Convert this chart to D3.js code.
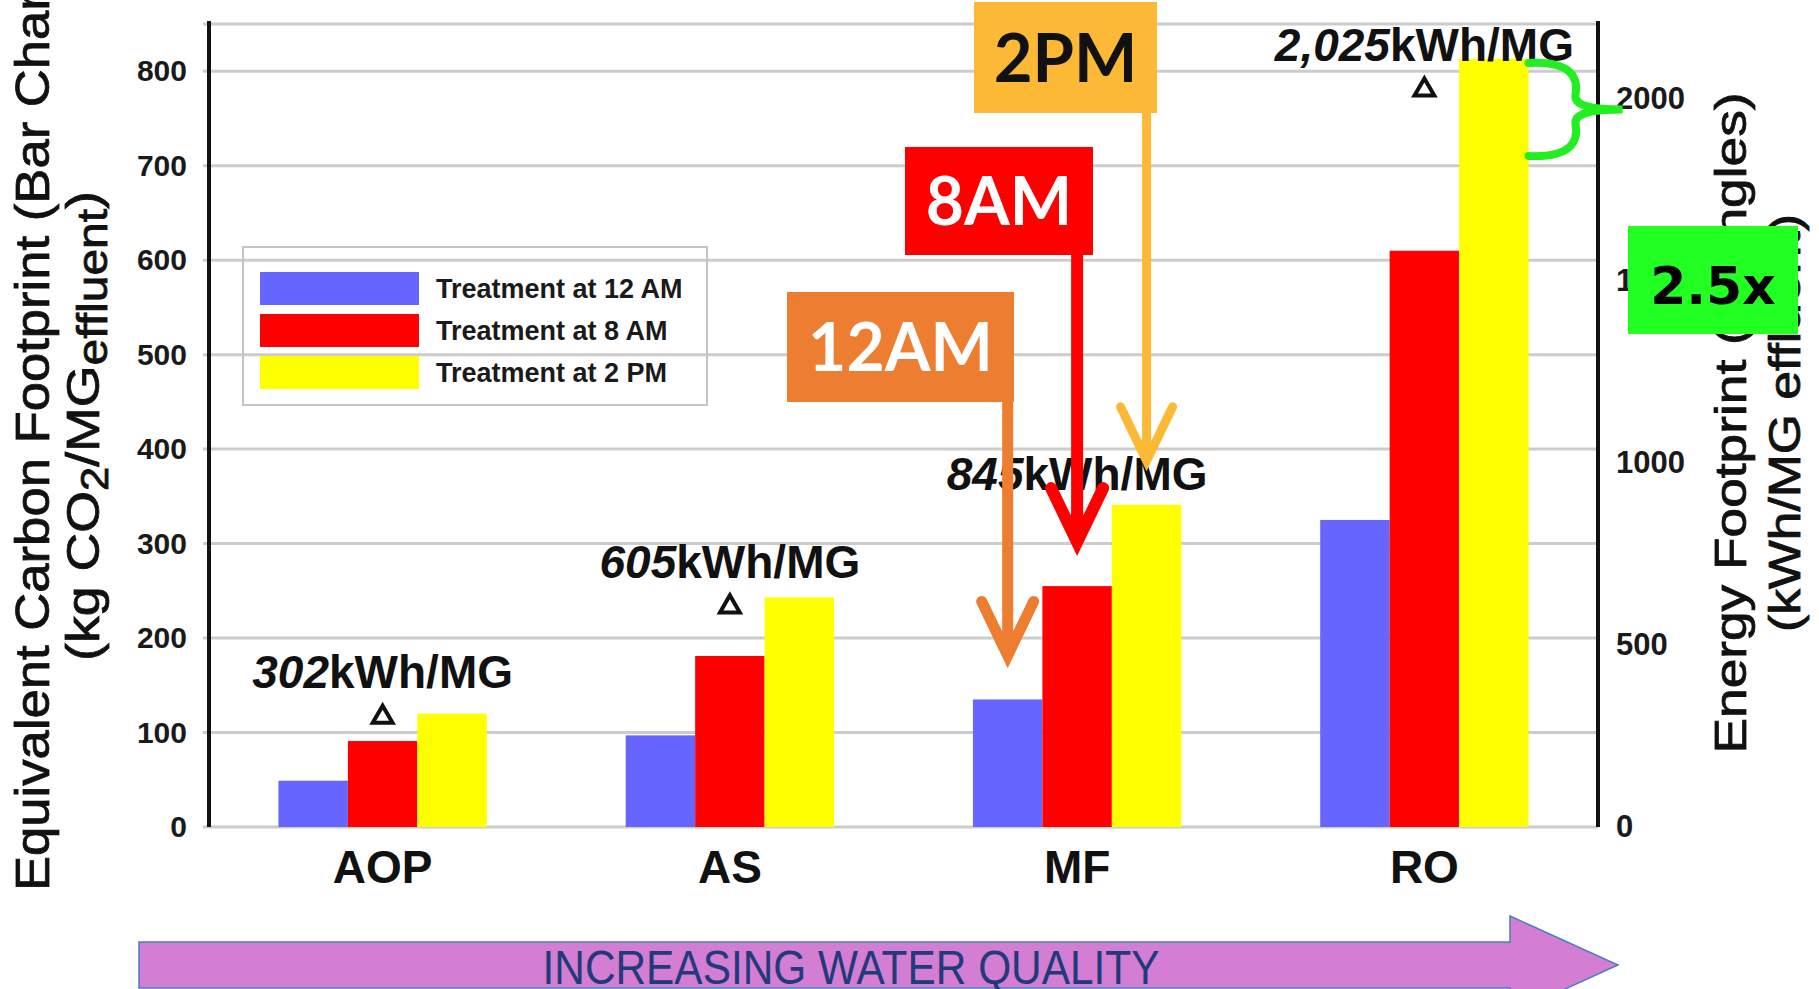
<!DOCTYPE html>
<html>
<head>
<meta charset="utf-8">
<script src="https://cdn.jsdelivr.net/npm/d3@7"></script>
<style>
  html, body { margin: 0; padding: 0; background: #ffffff; }
  svg { display: block; }
</style>
</head>
<body>
<svg id="chart" width="1819" height="989"></svg>
<script>
// ---- data ----
const categories = ["AOP", "AS", "MF", "RO"];
const seriesNames = ["Treatment at 12 AM", "Treatment at 8 AM", "Treatment at 2 PM"];
const carbon12AM = [49, 97, 135, 325];
const carbon8AM = [91, 181, 255, 610];
const carbon2PM = [120, 243, 341, 813];
const energyFootprint = [302, 605, 845, 2025];
const energyLabelNumbers = ["302", "605", "845", "2,025"];
const carbonTicks = [0, 100, 200, 300, 400, 500, 600, 700, 800];
const energyTicks = [0, 500, 1000, 1500, 2000];
const calloutLabels = ["12AM", "8AM", "2PM"];
const calloutCategory = "MF";
const ratioLabel = "2.5x";
const qualityLabel = "INCREASING WATER QUALITY";

const seriesValues = [carbon12AM, carbon8AM, carbon2PM];
const seriesColors = ["#6666ff", "#ff0000", "#ffff00"];

// ---- scales ----
const svg = d3.select("#chart");
const plot = { left: 209, right: 1598, top: 24, bottom: 827 };

const x = d3.scaleBand().domain(categories).range([plot.left, plot.right])
  .paddingInner(0.4).paddingOuter(0.2);
const xs = d3.scaleBand().domain(seriesNames).range([0, x.bandwidth()]);
const yL = d3.scaleLinear().domain([0, 850]).range([plot.bottom, plot.top]);
const yR = d3.scaleLinear().domain([0, 2206]).range([plot.bottom, plot.top]);

const SANS = "'Liberation Sans', Arial, Helvetica, sans-serif";

// ---- grid ----
svg.append("g").selectAll("line")
  .data(carbonTicks.concat([850]))
  .join("line")
  .attr("x1", plot.left - 6).attr("x2", plot.right)
  .attr("y1", d => yL(d)).attr("y2", d => yL(d))
  .attr("stroke", "#cccccc").attr("stroke-width", 3);

// ---- bars ----
const groups = svg.append("g").selectAll("g")
  .data(categories)
  .join("g")
  .attr("transform", c => `translate(${x(c)},0)`);

groups.selectAll("rect")
  .data((c, i) => seriesNames.map((s, k) => ({ s, k, v: seriesValues[k][i] })))
  .join("rect")
  .attr("x", d => xs(d.s))
  .attr("width", xs.bandwidth())
  .attr("y", d => yL(d.v))
  .attr("height", d => yL(0) - yL(d.v))
  .attr("fill", d => seriesColors[d.k]);

// ---- axes ----
const leftAxis = svg.append("g")
  .attr("transform", `translate(${plot.left},0)`)
  .call(d3.axisLeft(yL).tickValues(carbonTicks).tickSize(0).tickPadding(22));
leftAxis.select(".domain").remove();
leftAxis.selectAll("text")
  .attr("font-family", SANS).attr("font-weight", "bold")
  .attr("font-size", 30).attr("fill", "#1a1a1a");

const rightAxis = svg.append("g")
  .attr("transform", `translate(${plot.right},0)`)
  .call(d3.axisRight(yR).tickValues(energyTicks).tickFormat(d3.format("d"))
    .tickSize(0).tickPadding(18));
rightAxis.select(".domain").remove();
rightAxis.selectAll("text")
  .attr("font-family", SANS).attr("font-weight", "bold")
  .attr("font-size", 31).attr("fill", "#1a1a1a");

[plot.left, plot.right].forEach(px => {
  svg.append("line")
    .attr("x1", px).attr("x2", px)
    .attr("y1", plot.top - 3).attr("y2", plot.bottom)
    .attr("stroke", "#111").attr("stroke-width", 4);
});

// category labels
svg.append("g").selectAll("text")
  .data(categories)
  .join("text")
  .attr("x", c => x(c) + x.bandwidth() / 2)
  .attr("y", 883)
  .attr("text-anchor", "middle")
  .attr("font-family", SANS).attr("font-weight", "bold")
  .attr("font-size", 46).attr("fill", "#111")
  .text(c => c);

// ---- energy triangles and labels ----
const tri = d3.symbol().type(d3.symbolTriangle).size(170);
const energyG = svg.append("g");
categories.forEach((c, i) => {
  const cx = x(c) + x.bandwidth() / 2;
  const cy = yR(energyFootprint[i]);
  energyG.append("path")
    .attr("d", tri())
    .attr("transform", `translate(${cx},${cy})`)
    .attr("fill", "none").attr("stroke", "#111").attr("stroke-width", 4);
  const t = energyG.append("text")
    .attr("x", cx).attr("y", cy - 29)
    .attr("text-anchor", "middle")
    .attr("font-family", SANS).attr("font-size", 46)
    .attr("font-weight", "bold").attr("fill", "#111");
  t.append("tspan").attr("font-style", "italic").text(energyLabelNumbers[i]);
  t.append("tspan").text("kWh/MG");
});

// ---- legend ----
const legend = svg.append("g");
legend.append("rect")
  .attr("x", 243).attr("y", 247).attr("width", 464).attr("height", 158)
  .attr("fill", "none").attr("stroke", "#c4c4c4").attr("stroke-width", 2);
seriesNames.forEach((s, k) => {
  const ly = 272 + k * 42;
  legend.append("rect")
    .attr("x", 260).attr("y", ly).attr("width", 159).attr("height", 33)
    .attr("fill", seriesColors[k]);
  legend.append("text")
    .attr("x", 436).attr("y", ly + 26)
    .attr("font-family", SANS).attr("font-weight", "bold")
    .attr("font-size", 27).attr("fill", "#1a1a1a")
    .text(s);
});

// ---- axis titles ----
svg.append("text")
  .attr("transform", "translate(49,426) rotate(-90)")
  .attr("text-anchor", "middle")
  .attr("font-family", SANS).attr("font-size", 48).attr("fill", "#111")
  .attr("stroke", "#111").attr("stroke-width", 0.8)
  .attr("textLength", 930).attr("lengthAdjust", "spacingAndGlyphs")
  .text("Equivalent Carbon Footprint (Bar Chart)");

const leftTitle2 = svg.append("text")
  .attr("transform", "translate(99,426) rotate(-90)")
  .attr("text-anchor", "middle")
  .attr("font-family", SANS).attr("font-size", 47).attr("fill", "#111")
  .attr("stroke", "#111").attr("stroke-width", 0.8)
  .attr("textLength", 470).attr("lengthAdjust", "spacingAndGlyphs");
leftTitle2.append("tspan").text("(kg CO");
leftTitle2.append("tspan").attr("font-size", 38).attr("dy", 9).text("2");
leftTitle2.append("tspan").attr("dy", -9).text("/MG");
leftTitle2.append("tspan").attr("font-size", 42).attr("dy", 8).text("effluent");
leftTitle2.append("tspan").attr("dy", -8).text(")");

svg.append("text")
  .attr("transform", "translate(1746,423) rotate(-90)")
  .attr("text-anchor", "middle")
  .attr("font-family", SANS).attr("font-size", 44).attr("fill", "#111")
  .attr("stroke", "#111").attr("stroke-width", 0.8)
  .attr("textLength", 661).attr("lengthAdjust", "spacingAndGlyphs")
  .text("Energy Footprint (Triangles)");

svg.append("text")
  .attr("transform", "translate(1800,423) rotate(-90)")
  .attr("text-anchor", "middle")
  .attr("font-family", SANS).attr("font-size", 44).attr("fill", "#111")
  .attr("stroke", "#111").attr("stroke-width", 0.8)
  .attr("textLength", 418).attr("lengthAdjust", "spacingAndGlyphs")
  .text("(kWh/MG effluent)");

// ---- time-of-day callouts pointing at the MF bars ----
const CALLOUT_FONT = "Lato, 'Open Sans', sans-serif";
const calloutStyle = [
  { box: [787, 292, 227, 110], fill: "#ed7d31", text: "#ffffff", line: "#ed7d31", w: 11, size: 66 },
  { box: [905, 147, 188, 108], fill: "#ff0000", text: "#ffffff", line: "#ff0000", w: 12, size: 66 },
  { box: [974, 2, 183, 111], fill: "#fbb936", text: "#111111", line: "#fbb936", w: 9, size: 67 }
];
const mfIndex = categories.indexOf(calloutCategory);
const callG = svg.append("g");
calloutLabels.forEach((lab, k) => {
  const st = calloutStyle[k];
  const [bx, by, bw, bh] = st.box;
  const ax = x(calloutCategory) + xs(seriesNames[k]) + xs.bandwidth() / 2;
  const tipY = yL(seriesValues[k][mfIndex]) - 44;
  callG.append("path")
    .attr("d", `M${ax},${by + bh} L${ax},${tipY} M${ax - 26},${tipY - 54} L${ax},${tipY} L${ax + 26},${tipY - 54}`)
    .attr("fill", "none").attr("stroke", st.line).attr("stroke-width", st.w)
    .attr("stroke-linecap", "round").attr("stroke-linejoin", "miter");
  callG.append("rect")
    .attr("x", bx).attr("y", by).attr("width", bw).attr("height", bh)
    .attr("fill", st.fill);
  callG.append("text")
    .attr("x", bx + bw / 2).attr("y", by + bh / 2 + 24)
    .attr("text-anchor", "middle")
    .attr("font-family", CALLOUT_FONT).attr("font-weight", "bold")
    .attr("font-size", st.size).attr("fill", st.text)
    .text(lab);
});

// ---- brace linking the RO 2 PM bar to the energy axis, with ratio box ----
const roRight = x("RO") + xs(seriesNames[2]) + xs.bandwidth();
const braceTop = yL(carbon2PM[3]) + 4;
const braceBot = braceTop + 93;
const braceMid = (braceTop + braceBot) / 2;
svg.append("path")
  .attr("d", `M${roRight},${braceTop} C${roRight + 42},${braceTop - 2} ${roRight + 50},${braceTop + 14} ${roRight + 47},${braceMid - 15}
              C${roRight + 45},${braceMid - 4} ${roRight + 62},${braceMid} ${roRight + 94},${braceMid}
              C${roRight + 62},${braceMid} ${roRight + 45},${braceMid + 4} ${roRight + 47},${braceMid + 15}
              C${roRight + 50},${braceBot - 14} ${roRight + 42},${braceBot + 2} ${roRight},${braceBot}`)
  .attr("fill", "none").attr("stroke", "#22ee22").attr("stroke-width", 8)
  .attr("stroke-linecap", "round");

svg.append("rect")
  .attr("x", 1628).attr("y", 226).attr("width", 170).attr("height", 108)
  .attr("fill", "#22ff22");
svg.append("text")
  .attr("x", 1713).attr("y", 304)
  .attr("text-anchor", "middle")
  .attr("font-family", "'DejaVu Sans', sans-serif").attr("font-weight", "bold")
  .attr("font-size", 52).attr("fill", "#000")
  .text(ratioLabel);

// ---- bottom arrow ----
const arrowPts = [[139, 942], [1510, 942], [1510, 916], [1618, 965], [1510, 1014], [1510, 988], [139, 988]];
svg.append("path")
  .attr("d", d3.line()(arrowPts) + "Z")
  .attr("fill", "#d37dd3").attr("stroke", "#4a7ec8").attr("stroke-width", 1.5);
svg.append("text")
  .attr("x", 851).attr("y", 984)
  .attr("text-anchor", "middle")
  .attr("font-family", SANS).attr("font-size", 48).attr("fill", "#203a7a")
  .attr("textLength", 617).attr("lengthAdjust", "spacingAndGlyphs")
  .text(qualityLabel);
</script>
</body>
</html>
